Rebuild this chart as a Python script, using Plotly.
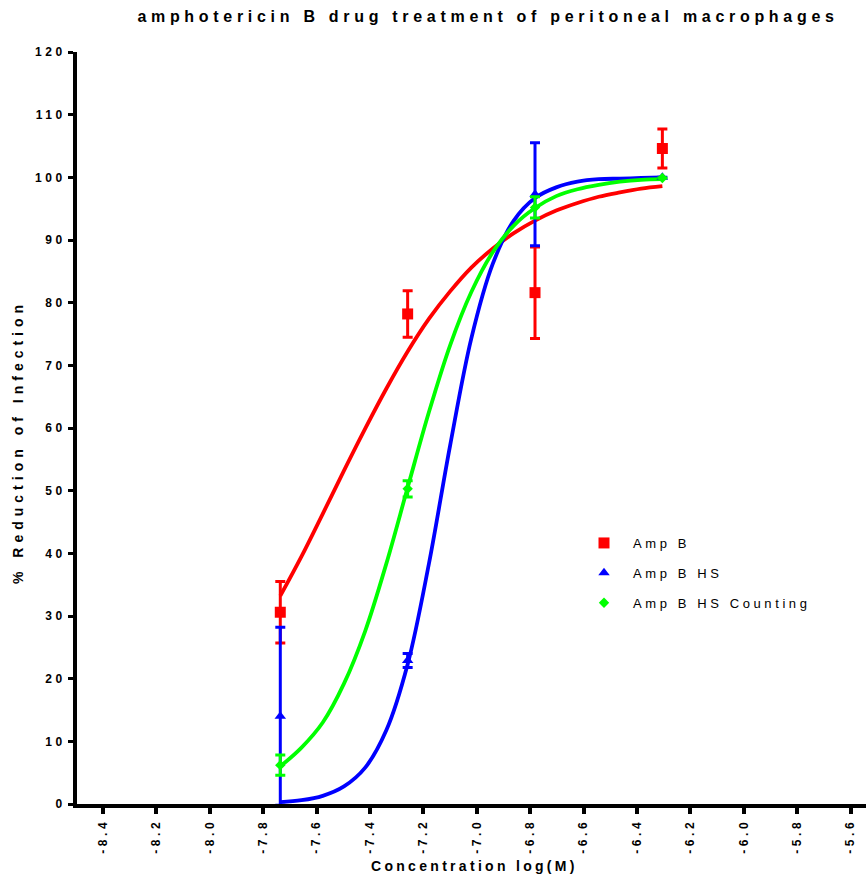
import plotly.graph_objects as go

# ---- data ----
conc_log = [-7.736, -7.259, -6.782, -6.305]
ampb = [30.6, 78.2, 81.6, 104.6]
ampb_err = [4.9, 3.7, 7.3, 3.1]
ampb_hs = [14.0, 22.9, 97.3, 100.0]
ampb_hs_err = [14.2, 1.1, 8.2, 0.0]
ampb_hsc = [6.2, 50.3, 95.2, 99.9]
ampb_hsc_err = [1.6, 1.3, 1.7, 0.0]

# fitted curves at evenly spaced concentrations
fit_x = [-7.736, -7.6565, -7.577, -7.4975, -7.418, -7.3385, -7.259, -7.1795, -7.100, -7.0205,
         -6.941, -6.8615, -6.782, -6.7025, -6.623, -6.5435, -6.464, -6.3845, -6.305]
fit_y_ampb = [33.2, 39.5, 46.3, 53.2, 59.9, 66.3, 72.2, 77.4, 81.8, 85.6,
              88.6, 91.1, 93.1, 94.7, 95.9, 96.9, 97.6, 98.2, 98.6]
fit_y_hs = [0.3, 0.6, 1.3, 2.8, 5.8, 11.8, 22.3, 38.3, 57.2, 74.3,
            86.1, 93.1, 96.7, 98.4, 99.3, 99.7, 99.8, 99.9, 100.0]
fit_y_hsc = [6.0, 9.0, 13.0, 19.2, 27.6, 38.4, 50.5, 62.5, 73.2, 81.7,
             88.0, 92.3, 95.1, 97.0, 98.1, 98.8, 99.3, 99.6, 99.7]

x_ticks = [-8.4, -8.2, -8.0, -7.8, -7.6, -7.4, -7.2, -7.0, -6.8, -6.6, -6.4, -6.2, -6.0, -5.8, -5.6]
y_ticks = [0, 10, 20, 30, 40, 50, 60, 70, 80, 90, 100, 110, 120]

series_names = ["Amp B", "Amp B HS", "Amp B HS Counting"]
colors = ["#FF0000", "#0000FF", "#00FF00"]

BOLD = "Liberation Sans, Arial, sans-serif"
REG = "Liberation Sans, Arial, sans-serif"

L, R, T, B = 77, 1, 52, 73
PW, PH = 867 - L - R, 877 - T - B

fig = go.Figure()

for cy, col in zip([fit_y_ampb, fit_y_hs, fit_y_hsc], colors):
    fig.add_trace(go.Scatter(x=fit_x, y=cy, mode="lines", line=dict(color=col, width=3.8, shape="spline"),
                             showlegend=False, hoverinfo="skip"))

pts = [(ampb, ampb_err, "square", 11), (ampb_hs, ampb_hs_err, "triangle-up", 10), (ampb_hsc, ampb_hsc_err, "diamond", 8)]
for i, ((vals, errs, sym, size), col, name) in enumerate(zip(pts, colors, series_names)):
    fig.add_trace(go.Scatter(
        x=conc_log, y=vals, mode="markers", name=name, legendgroup=f"g{i}",
        marker=dict(symbol=sym, size=size, color=col, line=dict(width=0)),
        error_y=dict(type="data", array=errs, visible=True, color=col, thickness=3, width=5),
    ))

fig.update_layout(
    width=867, height=877,
    margin=dict(l=L, r=R, t=T, b=B),
    paper_bgcolor="white", plot_bgcolor="white",
    title=dict(text="amphotericin B drug treatment of peritoneal macrophages",
               font=dict(family=BOLD, size=16, color="black", weight="bold"),
               x=(488 - L) / PW, xref="paper", xanchor="center", y=1 - 16 / 877, yref="container", yanchor="middle"),
    xaxis=dict(range=[-8.4 - (103 - L) / 267, -8.4 + (866 - 103) / 267], tickmode="array", tickvals=x_ticks,
               ticktext=[f"{v:.1f}" for v in x_ticks],
               tickangle=-90, showgrid=False, zeroline=False, showline=True, linecolor="black", linewidth=4,
               ticks="outside", ticklen=6, tickwidth=3.5, tickcolor="black",
               tickfont=dict(family=BOLD, size=12, color="black", weight="bold")),
    yaxis=dict(range=[0, 120], tickmode="array", tickvals=y_ticks, showgrid=False, zeroline=False,
               showline=True, linecolor="black", linewidth=4,
               ticks="outside", ticklen=5, tickwidth=3, tickcolor="black",
               tickfont=dict(family=BOLD, size=12, color="black", weight="bold")),
    legend=dict(x=(575 - L) / PW, y=(804 - 528) / PH, xanchor="left", yanchor="top", bgcolor="rgba(0,0,0,0)",
                font=dict(family=REG, size=13, color="black"), tracegroupgap=10, itemwidth=48),
    showlegend=True,
    annotations=[
        dict(text="Concentration log(M)", xref="paper", yref="paper", x=(475 - L) / PW, y=(804 - 866) / PH,
             xanchor="center", yanchor="middle", showarrow=False,
             font=dict(family=BOLD, size=14, color="black", weight="bold")),
        dict(text="% Reduction of Infection", xref="paper", yref="paper", x=(18 - L) / PW, y=(804 - 442) / PH,
             xanchor="center", yanchor="middle", textangle=-90, showarrow=False,
             font=dict(family=BOLD, size=14, color="black", weight="bold")),
    ],
)

post = """
var st=document.createElement('style');
st.innerHTML='body{margin:0 !important} .scrollbox{clip-path:none !important} .gtitle{letter-spacing:4.7px} .xtick text{letter-spacing:3.6px} .ytick text{letter-spacing:3.5px} .annotation-text{letter-spacing:3.3px} .legendtext{letter-spacing:3.6px}';
document.head.appendChild(st);
var a=document.querySelectorAll('.annotation-text');
if(a.length>1){a[1].style.letterSpacing='5px';}
"""
fig.write_html("out.html", post_script=post, config={"displayModeBar": False})
